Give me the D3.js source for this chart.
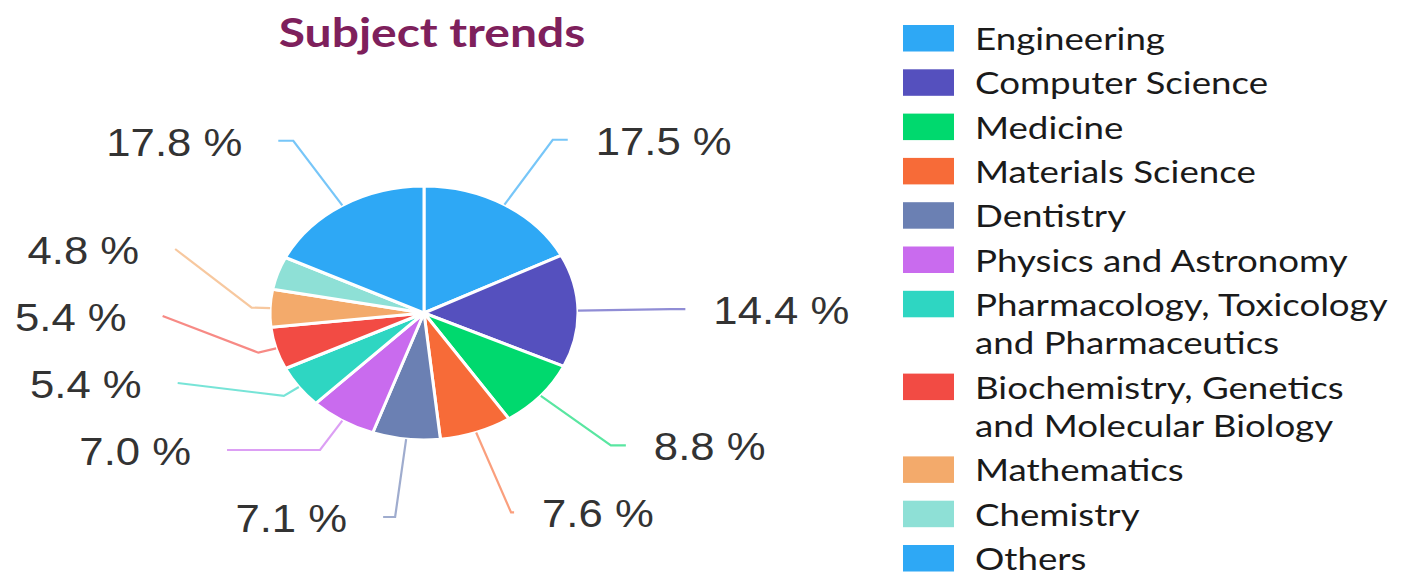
<!DOCTYPE html>
<html><head><meta charset="utf-8">
<script src="https://cdn.jsdelivr.net/npm/d3@7"></script>
<style>body{margin:0;background:#fff;} svg{display:block}</style>
</head><body>
<svg id="chart" width="1408" height="574"></svg>
<script>
// ---- data ----
const title = "Subject trends";
const categories = ["Engineering","Computer Science","Medicine","Materials Science","Dentistry","Physics and Astronomy","Pharmacology, Toxicology and Pharmaceutics","Biochemistry, Genetics and Molecular Biology","Mathematics","Chemistry","Others"];
const legendLines = [["Engineering"],["Computer Science"],["Medicine"],["Materials Science"],["Dentistry"],["Physics and Astronomy"],["Pharmacology, Toxicology","and Pharmaceutics"],["Biochemistry, Genetics","and Molecular Biology"],["Mathematics"],["Chemistry"],["Others"]];
const values = [17.5,14.4,8.8,7.6,7.1,7.0,5.4,5.4,4.8,4.2,17.8];
const colors = ["#2ea8f5","#5550be","#00d96e","#f76b38","#6b80b3","#c96bee","#2ed6c2","#f24b44","#f3aa6b","#8ee0d6","#2ea8f5"];
const unlabelled = ["Chemistry"];

// ---- layout ----
const svg = d3.select("#chart");
const cx = 424, cy = 313, rx = 154, ry = 127;
const K = 1.6, L = 15, gap = 67, maxY = 517;

const data = categories.map((c,i)=>({name:c, value:values[i], color:colors[i], lines:legendLines[i]}));

svg.append("text").attr("transform","translate(432,47) scale(1.17,1)").attr("text-anchor","middle")
  .attr("font-family","Lato, sans-serif").attr("font-weight",700).attr("font-size",41)
  .attr("fill","#7e205c").text(title);

const pie = d3.pie().sort(null).value(d=>d.value);
const arcs = pie(data);
const arc = d3.arc().innerRadius(0).outerRadius(rx);

const pg = svg.append("g").attr("transform",`translate(${cx},${cy}) scale(1,${ry/rx})`);
pg.selectAll("path").data(arcs).join("path")
  .attr("d", arc).attr("fill", d=>d.data.color)
  .attr("stroke","#fff").attr("stroke-width",3).attr("stroke-linejoin","round")
  .attr("vector-effect","non-scaling-stroke");

// labels
const labs = arcs.filter(a=>!unlabelled.includes(a.data.name)).map(a=>{
  const ang = (a.startAngle+a.endAngle)/2, s = Math.sin(ang), c = Math.cos(ang);
  return {a, s, c, dir: s < 0 ? -1 : 1, y: cy - K*ry*c, edge:[cx+rx*s, cy-ry*c]};
});
[-1,1].forEach(dir=>{
  const side = labs.filter(l=>l.dir===dir).sort((p,q)=>p.y-q.y);
  for (let i=1;i<side.length;i++) side[i].y = Math.max(side[i].y, side[i-1].y+gap);
  const last = side[side.length-1];
  if (last.y > maxY) {
    last.y = maxY;
    for (let i=side.length-2;i>=0;i--) side[i].y = Math.min(side[i].y, side[i+1].y-gap);
  }
});
const A = K*rx, B = K*ry;
labs.forEach(l=>{
  let t = (l.y - cy)/(-ry*l.c);
  if (!(t>=1.12 && t<=1.8)) t = 1.12;
  l.elbow = [cx + t*rx*l.s, cy - t*ry*l.c];
  const dy = l.y - cy;
  let ex = cx + l.dir*(A*Math.sqrt(Math.max(0,1-dy*dy/(B*B))) + L);
  ex = l.dir>0 ? Math.max(ex, l.elbow[0]+3) : Math.min(ex, l.elbow[0]-12);
  l.end = [ex, l.y];
});
const line = d3.line();
svg.append("g").selectAll("path").data(labs).join("path")
  .attr("d", l=>line([l.edge, l.elbow, l.end]))
  .attr("fill","none").attr("stroke", l=>l.a.data.color).attr("stroke-opacity",0.65)
  .attr("stroke-width",2.2);
svg.append("g").selectAll("text").data(labs).join("text")
  .attr("transform", l=>`translate(${l.end[0]+l.dir*(l.dir>0?28:36)},${l.y+15}) scale(1.12,1)`)
  .attr("text-anchor", l=>l.dir>0?"start":"end")
  .attr("font-family","'Liberation Sans', Arial, sans-serif").attr("font-size",39)
  .attr("fill","#333").text(l=>l.a.data.value.toFixed(1)+" %");

// legend
const lg = svg.append("g");
let yc = 25;
data.forEach(d=>{
  lg.append("rect").attr("x",903).attr("y",yc).attr("width",51).attr("height",26.5).attr("fill",d.color);
  d.lines.forEach((t,i)=>{
    lg.append("text").attr("transform",`translate(975,${yc+25+i*38.5}) scale(1.165,1)`)
      .attr("font-family","Lato, sans-serif").attr("font-size",31.5).attr("fill","#1a1a1a").text(t);
  });
  yc += 44.3 + (d.lines.length-1)*38.5;
});
</script>
</body></html>
